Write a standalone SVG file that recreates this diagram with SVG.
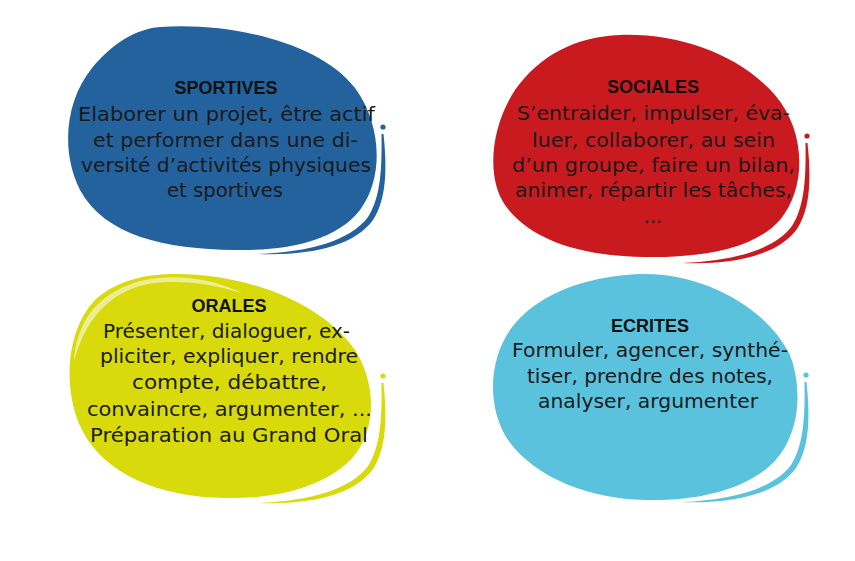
<svg xmlns="http://www.w3.org/2000/svg" xmlns:xlink="http://www.w3.org/1999/xlink" width="855" height="561" viewBox="0 0 855 561">
<style>
.t{font-family:"Liberation Sans",Arial,sans-serif;font-weight:bold;font-size:18px;fill:#111;text-anchor:middle}
.b{font-family:"DejaVu Sans","Liberation Sans",sans-serif;font-size:19.5px;fill:#1a1a1a;text-anchor:middle}
</style>
<defs>
<g id="swoosh">
<circle cx="0" cy="0" r="2.6"/>
<path d="M 0.5,7 C 4,40 4,72 -10,93 C -28,118 -70,129 -125,127 C -72,125 -32,113 -15,90 C -2,70 -1,40 -1.5,7 Z"/>
</g>
</defs>
<rect width="855" height="561" fill="#fff"/>
<g id="sportives">
<path fill="#24629e" d="M 160,27 C 230,22 320,42 355,88 C 382,125 384,178 360,210 C 335,242 285,251 235,250 C 165,249 105,236 80,190 C 60,150 66,100 92,68 C 112,44 135,29 160,27 Z"/>
<use xlink:href="#swoosh" href="#swoosh" transform="translate(383,127)" fill="#24629e"/>
<text class="t" x="226" y="94">SPORTIVES</text>
<text class="b" x="226.5" y="121" textLength="297" lengthAdjust="spacingAndGlyphs">Elaborer un projet, être actif</text>
<text class="b" x="225.5" y="147" textLength="265" lengthAdjust="spacingAndGlyphs">et performer dans une di-</text>
<text class="b" x="226" y="172" textLength="290" lengthAdjust="spacingAndGlyphs">versité d’activités physiques</text>
<text class="b" x="225" y="197" textLength="116" lengthAdjust="spacingAndGlyphs">et sportives</text>
</g>
<g id="sociales">
<path fill="#c91a1f" d="M 620,35 C 680,33 740,55 775,95 C 805,130 808,185 780,220 C 755,248 705,258 645,257 C 580,256 530,240 505,205 C 485,175 492,125 515,90 C 540,55 575,37 620,35 Z"/>
<use xlink:href="#swoosh" href="#swoosh" transform="translate(807,136)" fill="#c91a1f"/>
<text class="t" x="653" y="93">SOCIALES</text>
<text class="b" x="653.5" y="120" textLength="273" lengthAdjust="spacingAndGlyphs">S’entraider, impulser, éva-</text>
<text class="b" x="653.5" y="147" textLength="243" lengthAdjust="spacingAndGlyphs">luer, collaborer, au sein</text>
<text class="b" x="653.5" y="172" textLength="283" lengthAdjust="spacingAndGlyphs">d’un groupe, faire un bilan,</text>
<text class="b" x="653.5" y="197" textLength="277" lengthAdjust="spacingAndGlyphs">animer, répartir les tâches,</text>
<text class="b" x="653" y="223">...</text>
</g>
<g id="orales">
<path fill="#d8da0c" d="M 170,274 C 240,272 320,300 355,350 C 380,390 375,440 345,465 C 315,490 270,499 225,498 C 160,497 105,475 82,430 C 62,390 66,330 95,300 C 115,282 140,275 170,274 Z"/>
<path fill="#fff" fill-opacity="0.55" d="M 74,362 C 76,320 100,290 145,280 C 180,273 215,280 242,293 C 212,284 180,279 148,284 C 108,292 84,322 74,362 Z"/>
<use xlink:href="#swoosh" href="#swoosh" transform="translate(383,376)" fill="#d8da0c"/>
<text class="t" x="229" y="312">ORALES</text>
<text class="b" x="226.5" y="338" textLength="247" lengthAdjust="spacingAndGlyphs">Présenter, dialoguer, ex-</text>
<text class="b" x="229" y="363" textLength="258" lengthAdjust="spacingAndGlyphs">pliciter, expliquer, rendre</text>
<text class="b" x="229.5" y="389" textLength="195" lengthAdjust="spacingAndGlyphs">compte, débattre,</text>
<text class="b" x="229.5" y="416" textLength="285" lengthAdjust="spacingAndGlyphs">convaincre, argumenter, ...</text>
<text class="b" x="229" y="442" textLength="278" lengthAdjust="spacingAndGlyphs">Préparation au Grand Oral</text>
</g>
<g id="ecrites">
<path fill="#5bc2de" d="M 640,274 C 700,272 765,305 790,355 C 805,395 798,445 765,470 C 735,493 690,501 645,500 C 590,499 535,478 508,440 C 485,405 488,350 520,318 C 550,288 595,276 640,274 Z"/>
<use xlink:href="#swoosh" href="#swoosh" transform="translate(806,375)" fill="#5bc2de"/>
<text class="t" x="650" y="332">ECRITES</text>
<text class="b" x="650" y="357" textLength="276" lengthAdjust="spacingAndGlyphs">Formuler, agencer, synthé-</text>
<text class="b" x="650" y="383" textLength="246" lengthAdjust="spacingAndGlyphs">tiser, prendre des notes,</text>
<text class="b" x="648" y="408" textLength="220" lengthAdjust="spacingAndGlyphs">analyser, argumenter</text>
</g>
<g id="connectors"/>
</svg>
